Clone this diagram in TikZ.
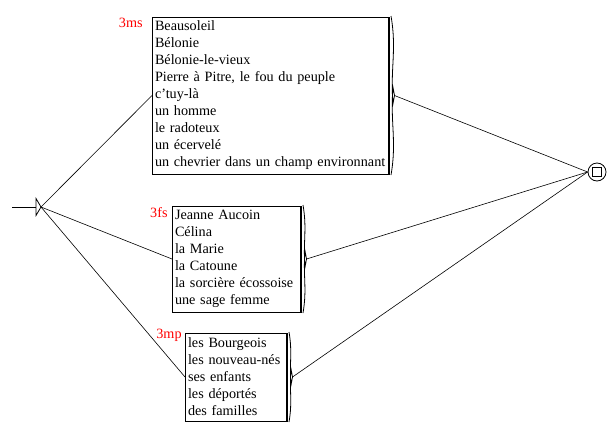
\documentclass[tikz,border=0pt]{standalone}
\usepackage{fontspec}
\setmainfont{Liberation Serif}
\begin{document}
\begin{tikzpicture}[x=1pt,y=-1pt,line width=0.8pt,
  boxtext/.style={draw, anchor=north west, align=left, inner xsep=3pt, inner ysep=0pt,
     font=\fontsize{14.2}{17}\selectfont, outer sep=0pt},
  outlbl/.style={text=red, anchor=base east, inner sep=0pt, font=\fontsize{14.2}{17}\selectfont},
  conn/.style={line width=0.6pt}]
\useasboundingbox (0,0) rectangle (609,428);
% initial state
\coordinate (instart) at (12,207);
\coordinate (init) at (41,207);
\draw (instart) -- (36,207);
\draw (36,198.5) -- (36,215.5) -- (init) -- cycle;
% final state
\node[draw, circle, minimum size=18pt, inner sep=0pt] (final) at (597,172) {};
\draw (592.5,167.5) rectangle (601.5,176.5);
% boxes
\node[boxtext, text width=231pt, minimum height=157pt] (b1) at (152,17) {Beausoleil\\Bélonie\\Bélonie-le-vieux\\Pierre à Pitre, le fou du peuple\\c'tuy-là\\un homme\\le radoteux\\un écervelé\\un chevrier dans un champ environnant};
\node[boxtext, text width=123pt, minimum height=106pt] (b2) at (172,206) {Jeanne Aucoin\\Célina\\la Marie\\la Catoune\\la sorcière écossoise\\une sage femme};
\node[boxtext, text width=96pt, minimum height=88pt] (b3) at (185,333) {les Bourgeois\\les nouveau-nés\\ses enfants\\les déportés\\des familles};
% thick right edges and brackets
\foreach \b in {b1,b2,b3}{
  \draw ([xshift=-0.6pt]\b.north east) -- ([xshift=-0.6pt]\b.south east);
  \draw ([xshift=2pt,yshift=1pt]\b.north east) to[out=-80,in=95] ([xshift=4pt,yshift=-8pt]\b.east)
        -- ([xshift=5.5pt]\b.east) coordinate (\b-out)
        -- ([xshift=4pt,yshift=8pt]\b.east) to[out=-95,in=80] ([xshift=2pt,yshift=-1pt]\b.south east);
}
% labels
\node[outlbl] (l1) at (143,28) {3ms};
\node[outlbl] (l2) at (168,217) {3fs};
\node[outlbl] (l3) at (182,338) {3mp};
% connectors
\draw[conn] (init) -- (b1.west);
\draw[conn] (init) -- (b2.west);
\draw[conn] (init) -- (b3.west);
\draw[conn] (b1-out) -- (final.west);
\draw[conn] (b2-out) -- (final.west);
\draw[conn] (b3-out) -- (final.west);
\end{tikzpicture}
\end{document}
